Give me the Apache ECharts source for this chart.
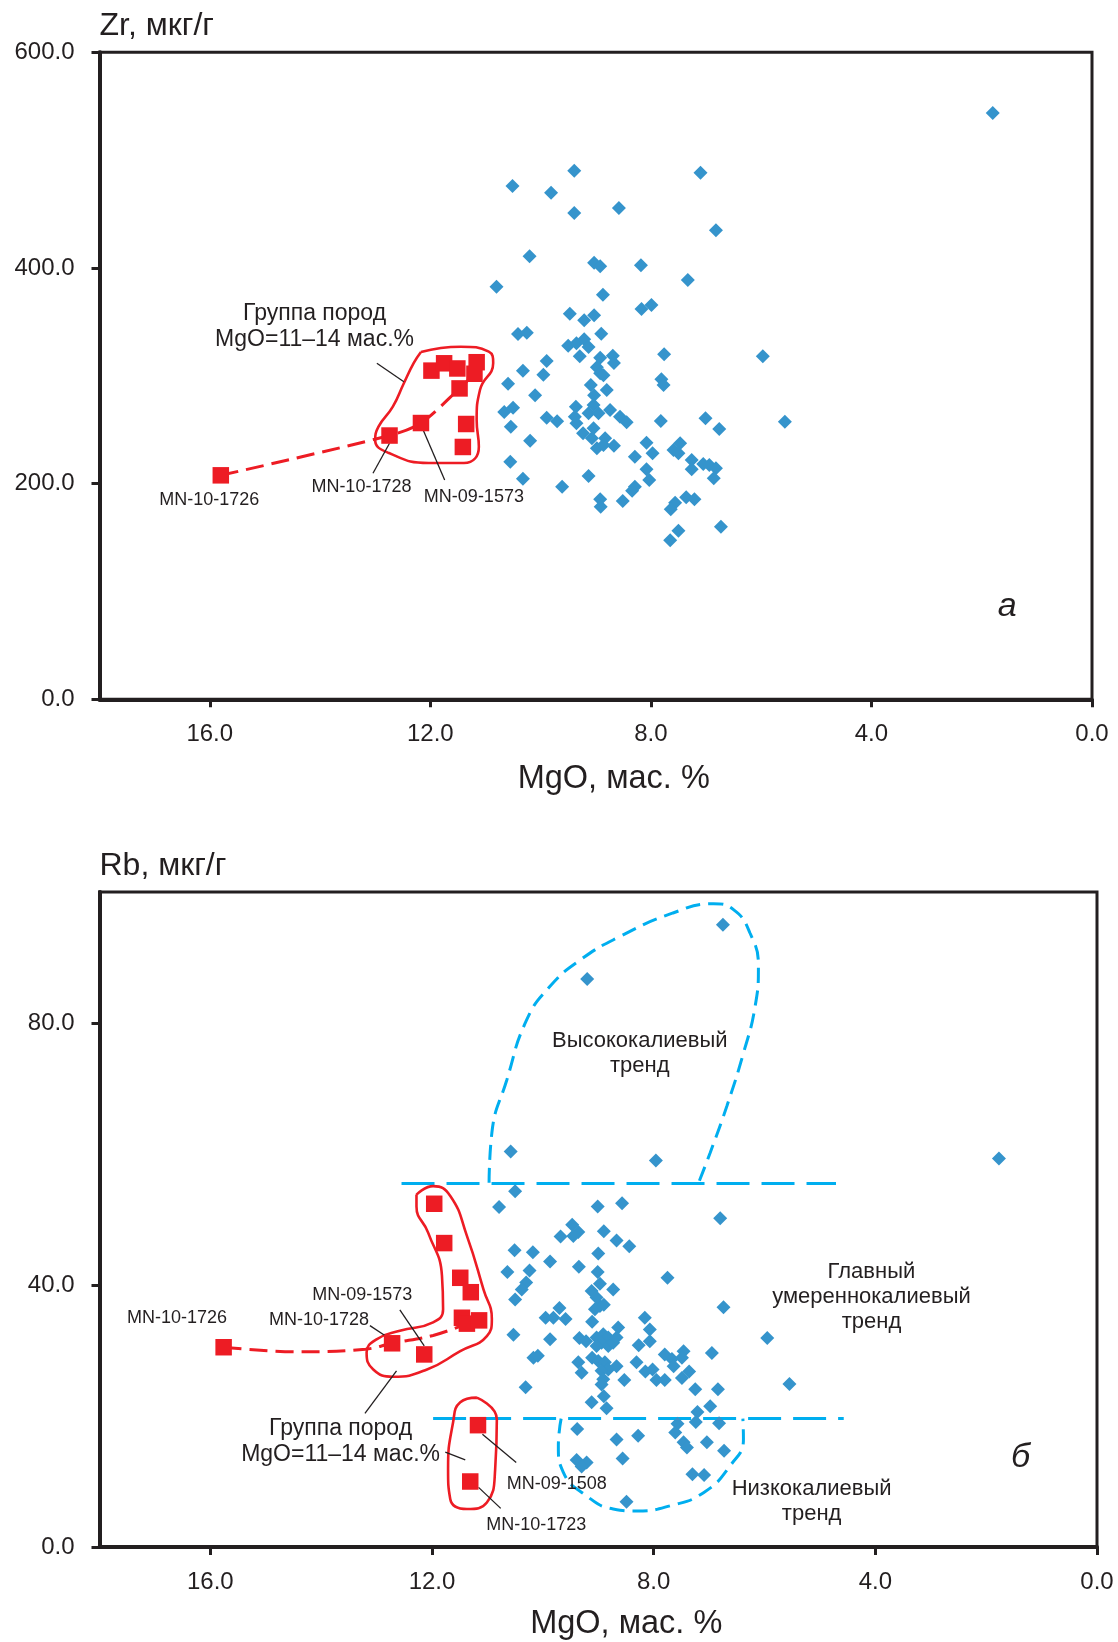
<!DOCTYPE html>
<html>
<head>
<meta charset="utf-8">
<script src="https://cdn.jsdelivr.net/npm/echarts@6/dist/echarts.min.js"></script>
<style>
html,body{margin:0;padding:0;background:#fff;}
#chart{width:1118px;height:1642px;}
</style>
</head>
<body>
<div id="chart"></div>
<script>
// ---------- tick values ----------
const xTicks = [0, 4, 8, 12, 16];
const zrTicks = [0, 200, 400, 600];
const rbTicks = [0, 40, 80];

// ---------- Panel a: Zr vs MgO ----------
const zrBlue = [
  [9.39,490.2],[7.10,488.4],[10.51,476.0],[9.81,469.8],[8.58,455.6],[9.39,451.0],[6.82,435.0],
  [10.20,410.8],[9.03,404.9],[8.92,401.6],[8.18,402.5],[7.33,388.9],[10.80,382.6],[8.87,375.2],
  [8.17,362.0],[7.99,365.7],[9.47,357.6],[9.03,356.1],[9.21,351.5],[10.41,338.8],[10.25,340.0],
  [8.90,339.1],[9.50,327.9],[9.35,330.2],[9.21,333.9],[9.13,326.7],[9.29,318.1],[8.92,316.8],
  [8.69,318.7],[8.67,311.9],[7.76,320.0],[5.97,318.1],[9.89,313.7],[10.32,304.7],[9.95,301.0],
  [8.98,307.9],[8.92,302.3],[8.86,300.5],[10.59,292.7],[10.10,281.9],[9.09,291.5],[8.80,286.8],
  [9.03,281.9],[7.81,296.8],[7.77,291.5],[10.66,266.4],[10.50,270.4],[10.54,252.8],[9.89,261.2],
  [9.70,257.8],[9.36,271.4],[9.38,262.1],[9.35,256.0],[9.13,265.2],[9.04,272.9],[8.95,265.2],
  [8.74,268.3],[8.56,262.1],[8.44,256.9],[7.82,258.1],[7.01,260.6],[6.76,250.7],[5.57,257.4],
  [10.19,239.8],[9.23,246.7],[9.04,251.3],[9.07,242.1],[8.83,242.1],[8.98,232.8],[8.67,235.2],
  [8.86,235.8],[8.08,238.0],[7.97,228.1],[8.29,225.0],[7.59,231.2],[7.47,237.4],[7.50,228.1],
  [7.26,221.9],[7.26,213.3],[7.05,218.2],[6.94,217.3],[6.82,214.2],[6.86,205.0],[10.55,220.4],
  [10.32,204.6],[9.13,207.1],[9.61,197.2],[8.08,213.3],[8.03,203.4],[8.29,197.2],[8.34,193.5],
  [8.92,185.5],[8.91,178.6],[8.51,183.9],[7.56,182.3],[7.64,176.2],[7.36,187.3],[7.21,185.5],
  [6.73,160.1],[7.50,156.4],[7.65,147.5],[1.80,543.7]
];
const zrRed = [
  [15.80,207.7],[12.74,244.6],[12.17,256.2],[11.47,288.3],[11.35,255.3],[11.41,234.0],
  [11.98,304.8],[11.75,311.6],[11.51,306.8],[11.16,312.6],[11.20,301.9]
];
const zrRedTrend = [[15.80,207.7],[12.74,244.6],[12.17,256.2],[11.47,288.3],[11.20,301.9]];
const zrGroupOutline = [
  [12.17,322.1],[11.45,327.0],[10.94,322.4],[10.86,311.9],[11.10,286.8],[11.16,259.0],
  [11.12,234.3],[11.39,219.1],[12.03,219.1],[12.75,228.4],[13.00,240.5],[12.94,252.8],
  [12.68,271.4],[12.48,293.1],[12.30,311.9],[12.17,322.1]
];
const zrLeaders = [
  [[12.97,311.6],[12.48,294.5]],
  [[13.04,209.6],[12.74,237.4]],
  [[11.74,203.4],[12.13,249.7]]
];
const zrNotes = [
  {x:14.10, y:346.0, text:'Группа пород\nMgO=11–14 мас.%', kind:'group'},
  {x:16.01, y:184.8, text:'MN-10-1726', kind:'sample'},
  {x:13.25, y:196.6, text:'MN-10-1728', kind:'sample'},
  {x:11.21, y:187.9, text:'MN-09-1573', kind:'sample'},
  {x:1.54,  y:85.6,  text:'а', kind:'panel'}
];

// ---------- Panel б: Rb vs MgO ----------
const rbBlue = [
  [6.75,95.0],[9.20,86.7],[10.58,60.4],[7.96,59.0],[1.77,59.3],
  [10.50,54.3],[10.79,51.9],[9.01,52.0],[8.57,52.5],[6.80,50.2],
  [9.47,49.2],[9.36,48.1],[9.45,47.5],[9.68,47.4],[8.90,48.2],[8.67,46.8],[8.44,45.9],
  [10.51,45.3],[10.18,45.0],[9.00,44.8],[9.87,43.6],[9.35,42.8],[9.01,42.0],[10.64,42.0],[10.24,42.2],[7.75,41.1],
  [10.30,40.4],[8.97,40.2],[8.73,39.3],[9.12,39.1],[10.38,39.3],[10.50,37.8],
  [9.03,38.1],[8.97,36.8],[8.90,37.0],[9.06,36.3],[6.74,36.6],
  [9.70,36.5],[9.95,35.0],[9.81,35.0],[9.59,34.8],[9.11,34.4],[8.16,35.0],
  [8.07,33.2],[8.64,33.5],[10.53,32.4],[9.87,31.7],[9.34,31.9],[9.22,31.4],
  [9.03,32.0],[8.91,32.5],[8.82,32.0],[8.94,31.2],[8.82,30.7],[9.03,30.7],[8.73,31.2],[8.67,32.0],
  [8.27,30.8],[8.07,31.4],[5.95,31.9],[6.95,29.6],
  [10.17,28.9],[10.09,29.2],[9.36,28.2],[9.30,26.6],[9.11,28.9],[9.00,28.4],
  [8.88,28.2],[8.82,27.1],[8.94,26.9],[8.67,27.6],[8.31,28.2],
  [7.80,29.4],[7.67,28.7],[7.46,29.9],[7.49,28.9],[7.64,27.6],[7.36,26.8],[7.49,25.8],
  [8.15,26.8],[8.02,27.1],[7.95,25.5],[7.80,25.5],[8.53,25.5],[8.91,25.6],[8.94,24.8],
  [10.31,24.4],[7.25,24.1],[6.84,24.1],[5.55,24.9],
  [9.12,22.1],[8.90,23.0],[8.85,21.2],[6.98,21.5],[7.21,20.6],[7.24,19.1],
  [9.38,18.0],[8.67,16.4],[8.28,17.0],[8.56,13.5],[9.39,13.3],[9.21,12.9],[9.30,12.3],[8.49,6.9],
  [7.57,18.8],[7.61,17.5],[7.46,16.0],[7.40,15.2],[7.04,16.0],[6.73,14.7],[7.30,11.1],[7.09,11.0],[6.82,18.9]
];
const rbRed = [
  [15.76,30.5],[12.72,31.1],[12.14,29.4],[11.96,52.4],[11.78,46.4],[11.49,41.1],
  [11.30,38.9],[11.46,35.0],[11.37,34.1],[11.15,34.6],[11.17,18.6],[11.31,10.0]
];
const rbRedTrend = [[15.76,30.5],[14.40,29.8],[13.20,30.2],[12.72,31.1],[11.98,32.3],[11.37,34.1]];
const rbGroupOutline = [
  [12.28,53.8],[11.98,55.1],[11.67,53.6],[11.37,47.5],[11.07,39.3],[10.92,34.8],[11.01,32.2],
  [11.49,29.9],[12.09,27.1],[12.70,26.0],[13.06,27.1],[13.18,29.7],[13.00,31.7],[12.58,33.0],
  [11.98,34.3],[11.80,36.3],[11.82,41.4],[12.07,48.0],[12.28,52.0],[12.28,53.8]
];
const rbLowGroupOutline = [
  [11.19,22.8],[10.83,19.5],[10.86,11.9],[11.01,6.8],[11.37,5.8],[11.67,7.3],
  [11.71,11.9],[11.62,19.0],[11.49,22.1],[11.19,22.8]
];
const rbHighKOutline = [
  [10.97,55.6],[10.92,63.2],[10.65,71.3],[10.29,80.5],[9.87,85.6],[9.33,89.6],[8.61,93.2],
  [7.65,96.8],[6.92,98.2],[6.56,97.3],[6.26,93.7],[6.11,88.6],[6.17,82.5],[6.38,75.4],
  [6.68,67.3],[6.98,60.2],[7.19,55.6]
];
const rbLowKOutline = [
  [9.67,19.6],[9.72,15.4],[9.63,11.4],[9.21,7.8],[8.73,5.8],[8.31,5.5],[7.70,6.3],
  [7.10,8.3],[6.62,12.4],[6.38,16.5],[6.39,19.6]
];
const rbUpperBoundary = [[12.55,55.5],[4.71,55.5]];
const rbLowerBoundary = [[11.98,19.6],[4.57,19.6]];
const rbLeaders = [
  [[12.58,36.2],[12.14,30.7]],
  [[13.12,33.8],[12.85,32.3]],
  [[13.21,20.4],[12.64,26.9]],
  [[11.76,14.5],[11.40,13.3]],
  [[11.09,17.2],[10.48,12.9]],
  [[11.16,9.1],[10.76,5.9]]
];
const rbNotes = [
  {x:16.60, y:34.9, text:'MN-10-1726', kind:'sample'},
  {x:14.04, y:34.6, text:'MN-10-1728', kind:'sample'},
  {x:13.26, y:38.4, text:'MN-09-1573', kind:'sample'},
  {x:13.65, y:16.15, text:'Группа пород\nMgO=11–14 мас.%', kind:'group'},
  {x:9.75, y:9.6, text:'MN-09-1508', kind:'sample'},
  {x:10.12, y:3.4, text:'MN-10-1723', kind:'sample'},
  {x:8.25, y:75.3, text:'Высококалиевый\nтренд', kind:'trend'},
  {x:4.07, y:38.2, text:'Главный\nумереннокалиевый\nтренд', kind:'trend'},
  {x:5.15, y:6.95, text:'Низкокалиевый\nтренд', kind:'trend'},
  {x:1.38, y:13.6, text:'б', kind:'panel'}
];

// ---------- styling ----------
const INK = '#231f20';
const FONT = '"Liberation Sans", Arial, sans-serif';
const BLUE = '#3594cc';
const RED = '#ed1c24';
const CYAN = '#00aeef';

const noteStyle = {
  sample: {fontSize: 18, lineHeight: 22, fontStyle: 'normal'},
  group:  {fontSize: 23, lineHeight: 26, fontStyle: 'normal'},
  trend:  {fontSize: 22, lineHeight: 25, fontStyle: 'normal'},
  panel:  {fontSize: 34, lineHeight: 36, fontStyle: 'italic'}
};

function xAxisDef(gi) {
  return {
    gridIndex: gi, type: 'value', min: 0, max: 18, inverse: true,
    axisLine: {onZero: false, lineStyle: {color: INK, width: 4}},
    axisTick: {customValues: xTicks, length: 8, lineStyle: {color: INK, width: 3}},
    axisLabel: {customValues: xTicks, formatter: v => v.toFixed(1), fontSize: 24, margin: 23,
                color: INK, fontFamily: FONT},
    splitLine: {show: false},
    name: 'MgO, мас. %', nameLocation: 'middle', nameGap: gi === 0 ? 63 : 61,
    nameTextStyle: {fontSize: 32.5, color: INK, fontFamily: FONT,
                    padding: [0, 0, 0, gi === 0 ? 36 : 56]}
  };
}
function yAxisDef(gi, name, max, ticks) {
  return {
    gridIndex: gi, type: 'value', min: 0, max: max,
    axisLine: {onZero: false, lineStyle: {color: INK, width: 4}},
    axisTick: {customValues: ticks, length: 8, lineStyle: {color: INK, width: 3}},
    axisLabel: {customValues: ticks, formatter: v => v.toFixed(1), fontSize: 24, margin: 25,
                color: INK, fontFamily: FONT},
    splitLine: {show: false},
    name: name, nameLocation: 'end', nameGap: 10,
    nameTextStyle: {fontSize: 32, color: INK, fontFamily: FONT, align: 'left'}
  };
}
function lineSeries(gi, data, color, width, dash, smooth, z) {
  return {
    type: 'line', xAxisIndex: gi, yAxisIndex: gi, data: data, showSymbol: false, symbol: 'none',
    smooth: smooth, silent: true, z: z || 2,
    lineStyle: {color: color, width: width, type: dash || 'solid'}
  };
}
function scatterSeries(gi, data, symbol, size, color, z) {
  return {
    type: 'scatter', xAxisIndex: gi, yAxisIndex: gi, data: data, symbol: symbol,
    symbolSize: size, itemStyle: {color: color, opacity: 1}, silent: true, z: z
  };
}

const series = [];
// panel a
series.push(lineSeries(0, zrGroupOutline, RED, 2.6, 'solid', 0.5, 2));
series.push(lineSeries(0, zrRedTrend, RED, 3, [18, 8], 0.3, 3));
zrLeaders.forEach(seg => series.push(lineSeries(0, seg, INK, 1.3, 'solid', false, 4)));
series.push(scatterSeries(0, zrBlue, 'diamond', 14, BLUE, 5));
series.push(scatterSeries(0, zrRed, 'rect', 16.5, RED, 6));
// panel б
series.push(lineSeries(1, rbUpperBoundary, CYAN, 3, [33, 12], false, 2));
series.push(lineSeries(1, rbLowerBoundary, CYAN, 3, [33, 12], false, 2));
series.push(lineSeries(1, rbHighKOutline, CYAN, 3, [15, 8], 0.5, 2));
series.push(lineSeries(1, rbLowKOutline, CYAN, 3, [15, 8], 0.5, 2));
series.push(lineSeries(1, rbGroupOutline, RED, 2.6, 'solid', 0.5, 3));
series.push(lineSeries(1, rbLowGroupOutline, RED, 2.6, 'solid', 0.5, 3));
series.push(lineSeries(1, rbRedTrend, RED, 3, [18, 8], 0.4, 3));
rbLeaders.forEach(seg => series.push(lineSeries(1, seg, INK, 1.3, 'solid', false, 4)));
series.push(scatterSeries(1, rbBlue, 'diamond', 14, BLUE, 5));
series.push(scatterSeries(1, rbRed, 'rect', 16.5, RED, 6));

const option = {
  animation: false,
  backgroundColor: '#fff',
  textStyle: {fontFamily: FONT},
  grid: [
    {left: 99.5, top: 52.3, width: 992.5, height: 647, show: true, borderColor: INK, borderWidth: 3},
    {left: 99.5, top: 892, width: 997.5, height: 656, show: true, borderColor: INK, borderWidth: 3}
  ],
  xAxis: [xAxisDef(0), xAxisDef(1)],
  yAxis: [yAxisDef(0, 'Zr, мкг/г', 600, zrTicks), yAxisDef(1, 'Rb, мкг/г', 100, rbTicks)],
  series: series
};

const chart = echarts.init(document.getElementById('chart'), null, {renderer: 'canvas'});
chart.setOption(option);

// annotation texts placed through the chart's own coordinate conversion
function noteGraphics(gi, notes) {
  return notes.map(n => {
    const p = chart.convertToPixel({gridIndex: gi}, [n.x, n.y]);
    const s = noteStyle[n.kind];
    return {
      type: 'text', x: p[0], y: p[1], z: 100, silent: true,
      style: {
        text: n.text, fill: INK, font: s.fontStyle + ' ' + s.fontSize + 'px ' + FONT,
        fontSize: s.fontSize, fontFamily: FONT, fontStyle: s.fontStyle, lineHeight: s.lineHeight,
        align: 'center', verticalAlign: 'middle'
      }
    };
  });
}
chart.setOption({graphic: noteGraphics(0, zrNotes).concat(noteGraphics(1, rbNotes))});
</script>
</body>
</html>
